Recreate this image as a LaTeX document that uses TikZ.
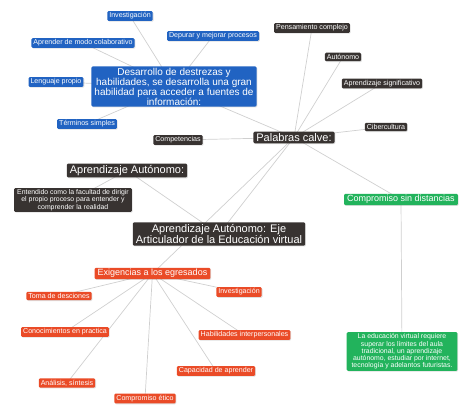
\documentclass[tikz,border=0pt]{standalone}
\usepackage{fontspec}
\setmainfont{Liberation Sans}
\usetikzlibrary{backgrounds,shadows}

\definecolor{azulmapa}{HTML}{2163C2}
\definecolor{oscuromapa}{HTML}{383331}
\definecolor{rojomapa}{HTML}{EA4B27}
\definecolor{verdemapa}{HTML}{22B35C}
\definecolor{lineamapa}{HTML}{CFCFCF}

\begin{document}
\begin{tikzpicture}[x=1pt, y=-1pt,
    caja/.style={text=white, rounded corners=1.2pt, align=center,
        drop shadow={shadow xshift=0.8pt, shadow yshift=-0.8pt, opacity=0.25}},
    chica/.style={caja, font=\fontsize{7.1}{8}\selectfont, inner xsep=2pt, inner ysep=1.6pt},
    media/.style={caja, font=\fontsize{9}{10}\selectfont, inner xsep=3pt, inner ysep=1.5pt},
    grande/.style={caja, font=\fontsize{11}{11}\selectfont, inner xsep=3pt, inner ysep=1.8pt},
    texto/.style={caja, font=\fontsize{6.9}{7.3}\selectfont, inner xsep=3pt, inner ysep=1.4pt},
    azul/.style={fill=azulmapa},
    oscuro/.style={fill=oscuromapa},
    rojo/.style={fill=rojomapa},
    verde/.style={fill=verdemapa},
    rama/.style={draw=lineamapa, line width=0.7pt}]

    \useasboundingbox (0,0) rectangle (474,414);

    % Nodo central
    \node[grande, oscuro, inner ysep=2pt] (eje) at (219,234)
        {Aprendizaje Autónomo: Eje\\Articulador de la Educación virtual};

    % Rama azul
    \node[caja, azul, font=\fontsize{10}{10}\selectfont, inner xsep=3pt, inner ysep=1.5pt] (destrezas) at (174,86.5)
        {Desarrollo de destrezas y\\habilidades, se desarrolla una gran\\habilidad para acceder a fuentes de\\información:};
    \node[chica, azul] (invest) at (130,16) {Investigación};
    \node[chica, azul] (colab) at (83,43) {Aprender de modo colaborativo};
    \node[chica, azul] (depurar) at (213,36) {Depurar y mejorar procesos};
    \node[chica, azul] (lenguaje) at (56,82) {Lenguaje propio};
    \node[chica, azul] (terminos) at (87,124) {Términos simples};

    % Palabras clave
    \node[grande, oscuro] (palabras) at (294,137.5) {Palabras calve:};
    \node[chica, oscuro] (pensam) at (312,28) {Pensamiento complejo};
    \node[chica, oscuro] (autono) at (343,57) {Autónomo};
    \node[chica, oscuro] (signif) at (382,83.5) {Aprendizaje significativo};
    \node[chica, oscuro] (ciber) at (386,127) {Cibercultura};
    \node[chica, oscuro] (compet) at (178,140) {Competencias};

    % Aprendizaje autonomo
    \node[grande, oscuro] (aprend) at (127,170.5) {Aprendizaje Autónomo:};
    \node[texto, oscuro] (entendido) at (73,200)
        {Entendido como la facultad de dirigir\\el propio proceso para entender y\\comprender la realidad};

    % Rama verde
    \node[media, verde] (sindist) at (401,199.5) {Compromiso sin distancias};
    \node[texto, verde, inner xsep=5pt] (virtual) at (402,351.5)
        {La educación virtual requiere\\superar los límites del aula\\tradicional, un aprendizaje\\autónomo, estudiar por internet,\\tecnología y adelantos futuristas.};

    % Rama roja
    \node[media, rojo] (exig) at (152.5,273.5) {Exigencias a los egresados};
    \node[chica, rojo] (toma) at (59,296) {Toma de desciones};
    \node[chica, rojo] (invroja) at (239,292) {Investigación};
    \node[chica, rojo] (conoc) at (65,332) {Conocimientos en practica};
    \node[chica, rojo] (habil) at (244.5,335) {Habilidades interpersonales};
    \node[chica, rojo] (capac) at (216,371) {Capacidad de aprender};
    \node[chica, rojo] (analisis) at (67,383) {Análisis, síntesis};
    \node[chica, rojo] (etico) at (145,398.5) {Compromiso ético};

    % Conexiones
    \begin{scope}[on background layer]
        \foreach \hijo in {invest, colab, depurar, lenguaje, terminos, palabras}
            \draw[rama] (destrezas.center) -- (\hijo.center);
        \foreach \hijo in {pensam, autono, signif, ciber, compet, sindist, eje, exig}
            \draw[rama] (palabras.center) -- (\hijo.center);
        \draw[rama] (aprend.center) -- (eje.center);
        \draw[rama] (aprend.center) -- (entendido.center);
        \draw[rama] (sindist.center) -- (virtual.center);
        \foreach \hijo in {toma, invroja, conoc, habil, capac, analisis, etico}
            \draw[rama] (exig.center) -- (\hijo.center);
    \end{scope}
\end{tikzpicture}
\end{document}
